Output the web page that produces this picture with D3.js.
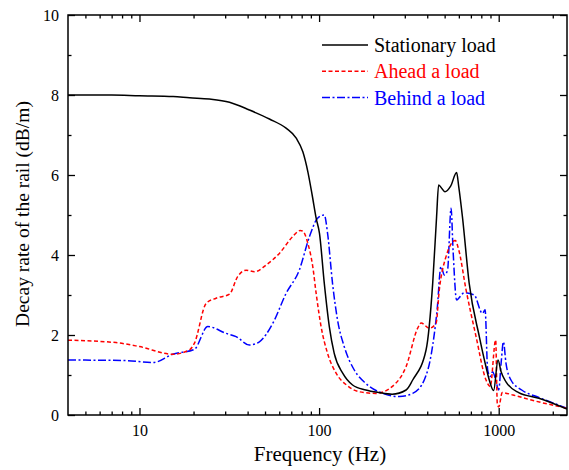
<!DOCTYPE html>
<html>
<head>
<meta charset="utf-8">
<script src="https://cdn.jsdelivr.net/npm/d3@7"></script>
<style>
  body { margin: 0; background: #fff; }
  text { font-family: "Liberation Serif", "Times New Roman", serif; }
</style>
</head>
<body>
<script>
// series data
var stationaryFreq  = [4, 7, 10, 15.4, 19, 24.5, 31.7, 40.9, 52.9, 65.5, 74.6, 81.2, 86.6, 91.5, 96.3, 100.5, 106.9, 114, 121.4, 135.6, 153.6, 182, 216, 255, 305, 332, 394, 429, 451, 463, 485, 502, 540, 583, 599, 628, 685, 780, 850, 886, 937, 991, 1031, 1098, 1292, 1673, 2400];
var stationaryDecay = [8.0, 8.0, 7.98, 7.96, 7.93, 7.9, 7.82, 7.625, 7.4, 7.17, 6.92, 6.58, 6.08, 5.5, 4.92, 4.54, 3.29, 2.21, 1.54, 1.04, 0.75, 0.625, 0.56, 0.52, 0.625, 0.875, 1.625, 3.29, 4.96, 5.75, 5.65, 5.58, 5.72, 6.06, 5.71, 4.96, 3.29, 1.96, 1.2, 0.875, 0.61, 1.375, 1.08, 0.83, 0.56, 0.42, 0.15];

var aheadFreq  = [4, 7.4, 10, 15.3, 19, 20.2, 23.5, 26.7, 31.7, 35.2, 39.3, 43.7, 50.7, 60.1, 71.3, 78.3, 81, 86.6, 92.2, 96.3, 102.6, 111.5, 124.6, 142, 167.6, 207, 255, 305, 354, 370, 411, 448, 467, 509, 573, 599, 658, 748, 850, 897, 962, 982, 1000, 1046, 1200, 1500, 2400];
var aheadDecay = [1.87, 1.81, 1.71, 1.52, 1.63, 1.79, 2.79, 2.92, 3.02, 3.46, 3.62, 3.58, 3.75, 4.04, 4.46, 4.61, 4.6, 4.29, 3.71, 3.04, 2.21, 1.54, 1.04, 0.75, 0.58, 0.54, 0.71, 1.21, 2.17, 2.3, 2.17, 2.29, 3.13, 3.96, 4.36, 4.13, 3.13, 1.96, 0.875, 0.71, 1.875, 0.29, 0.2, 0.56, 0.5, 0.38, 0.17];

var behindFreq  = [4, 8.4, 11.9, 15.3, 20.2, 24, 30.4, 34.5, 40.9, 46.5, 55.2, 65.5, 77.6, 88.4, 98.1, 106.9, 111.5, 118.8, 126.7, 138, 157, 182, 226, 280, 332, 385, 422, 454, 477, 498, 519, 543, 557, 583, 599, 644, 730, 812, 840, 868, 897, 925, 962, 1000, 1031, 1062, 1098, 1170, 1343, 1673, 2400];
var behindDecay = [1.375, 1.36, 1.31, 1.52, 1.64, 2.21, 2.04, 1.96, 1.75, 1.83, 2.29, 3.04, 3.625, 4.46, 4.92, 5.0, 4.54, 3.29, 2.375, 1.71, 1.125, 0.79, 0.54, 0.46, 0.54, 0.875, 1.54, 2.63, 3.71, 3.5, 3.62, 5.17, 4.12, 2.875, 2.92, 3.06, 3.0, 2.54, 2.63, 1.125, 0.96, 1.08, 0.875, 0.625, 1.29, 1.83, 1.29, 0.875, 0.625, 0.44, 0.17];

var xMajor = [10, 100, 1000];
var xMinor = [5, 6, 7, 8, 9, 20, 30, 40, 50, 60, 70, 80, 90, 200, 300, 400, 500, 600, 700, 800, 900, 2000];
var yMajor = [0, 2, 4, 6, 8, 10];
var yMinor = [1, 3, 5, 7, 9];

var seriesNames = ['Stationary load', 'Ahead a load', 'Behind a load'];
var seriesColors = ['#000000', '#ff0000', '#0000ff'];
var seriesDash = [null, '4,2.5', '8,2.5,2,2.5'];

var width = 569, height = 470;
var margin = {top: 15, right: 2, bottom: 55, left: 68};

var svg = d3.select('body').append('svg')
            .attr('width', width)
            .attr('height', height);

var x = d3.scaleLog().domain([4, 2400]).range([margin.left, width - margin.right]);
var y = d3.scaleLinear().domain([0, 10]).range([height - margin.bottom, margin.top]);

var plotW = width - margin.right - margin.left;
var plotH = height - margin.bottom - margin.top;

svg.append('clipPath').attr('id', 'clip')
   .append('rect')
   .attr('x', margin.left).attr('y', margin.top)
   .attr('width', plotW).attr('height', plotH);

function addAxis(axis, tx, ty, labels) {
  var g = svg.append('g')
             .attr('transform', `translate(${tx},${ty})`)
             .call(axis);
  g.select('.domain').remove();
  g.selectAll('line').attr('stroke', '#000').attr('stroke-width', 1.3);
  g.selectAll('text')
   .style('font-family', '"Liberation Serif", serif')
   .style('font-size', '16px')
   .attr('fill', '#000');
  if (!labels) g.selectAll('text').remove();
  return g;
}

var bottom = height - margin.bottom;
var right = width - margin.right;

addAxis(d3.axisBottom(x).tickValues(xMajor).tickFormat(d3.format('d')).tickSize(-7).tickPadding(10), 0, bottom, true);
addAxis(d3.axisBottom(x).tickValues(xMinor).tickSize(-3.5), 0, bottom, false);
addAxis(d3.axisTop(x).tickValues(xMajor).tickSize(-7), 0, margin.top, false);
addAxis(d3.axisTop(x).tickValues(xMinor).tickSize(-3.5), 0, margin.top, false);
addAxis(d3.axisLeft(y).tickValues(yMajor).tickFormat(d3.format('d')).tickSize(-7).tickPadding(9), margin.left, 0, true);
addAxis(d3.axisLeft(y).tickValues(yMinor).tickSize(-3.5), margin.left, 0, false);
addAxis(d3.axisRight(y).tickValues(yMajor).tickSize(-7), right, 0, false);
addAxis(d3.axisRight(y).tickValues(yMinor).tickSize(-3.5), right, 0, false);

var line = d3.line()
             .x(d => x(d[0]))
             .y(d => y(d[1]))
             .curve(d3.curveMonotoneX);

var series = [
  d3.zip(stationaryFreq, stationaryDecay),
  d3.zip(aheadFreq, aheadDecay),
  d3.zip(behindFreq, behindDecay)
];

var lines = svg.append('g').attr('clip-path', 'url(#clip)');
[2, 1, 0].forEach(function(i) {
  lines.append('path')
       .attr('d', line(series[i]))
       .attr('fill', 'none')
       .attr('stroke', seriesColors[i])
       .attr('stroke-width', 1.5)
       .attr('stroke-dasharray', seriesDash[i]);
});

// frame
svg.append('rect')
   .attr('x', margin.left).attr('y', margin.top)
   .attr('width', plotW).attr('height', plotH)
   .attr('fill', 'none')
   .attr('stroke', '#000')
   .attr('stroke-width', 1.5);

// legend
var legend = svg.append('g').attr('transform', 'translate(322,45)');
seriesNames.forEach(function(name, i) {
  var row = legend.append('g').attr('transform', `translate(0,${i * 26.3})`);
  row.append('line')
     .attr('x1', 0).attr('x2', 46)
     .attr('stroke', seriesColors[i])
     .attr('stroke-width', 1.5)
     .attr('stroke-dasharray', seriesDash[i]);
  row.append('text')
     .attr('x', 52).attr('y', 7)
     .attr('fill', seriesColors[i])
     .style('font-size', '20px')
     .text(name);
});

// axis titles
svg.append('text')
   .attr('x', 320)
   .attr('y', 461)
   .attr('text-anchor', 'middle')
   .style('font-size', '21px')
   .text('Frequency (Hz)');

svg.append('text')
   .attr('transform', 'translate(29,214) rotate(-90)')
   .attr('text-anchor', 'middle')
   .style('font-size', '19.5px')
   .text('Decay rate of the rail (dB/m)');
</script>
</body>
</html>
